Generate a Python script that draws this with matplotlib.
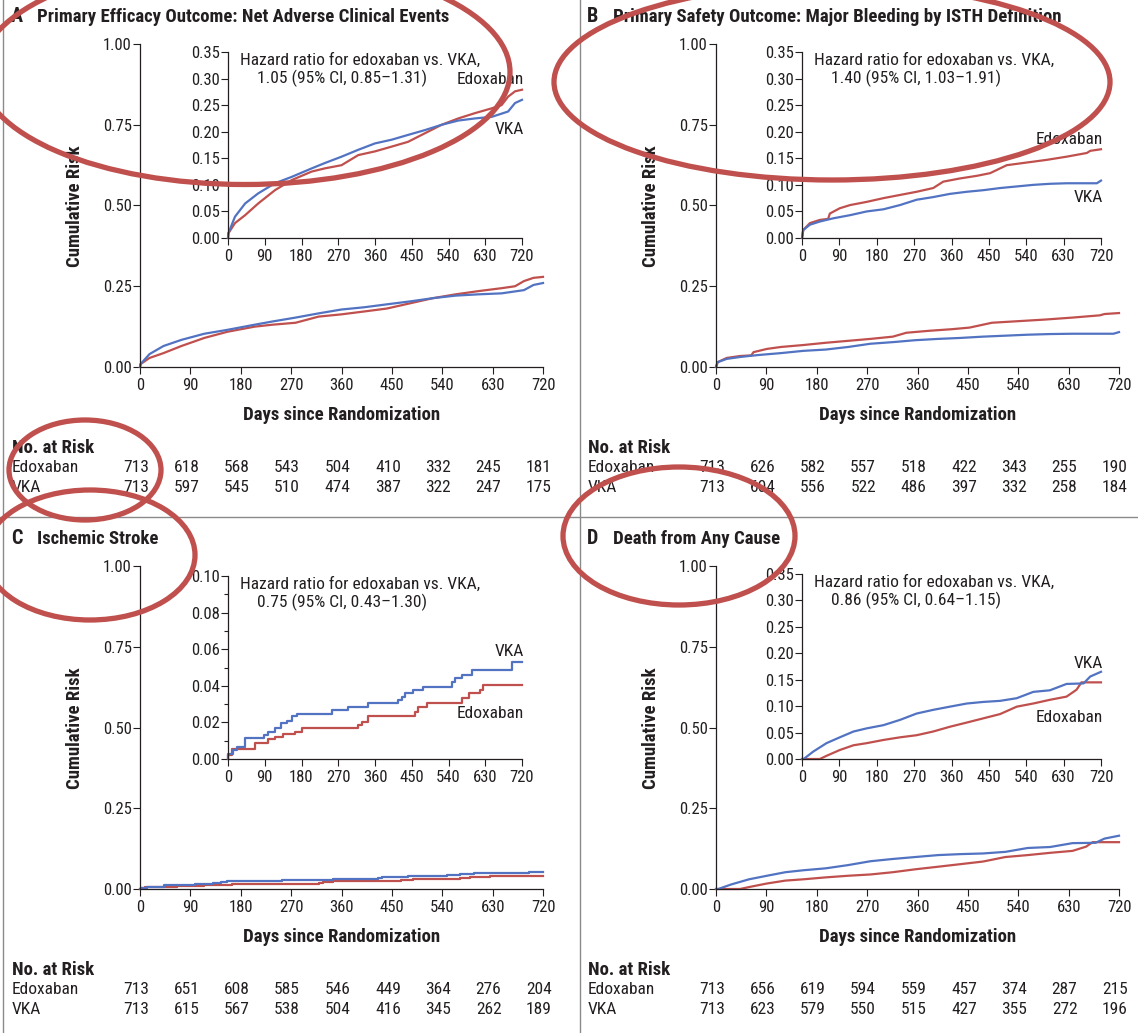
#! /usr/bin/env python3
import matplotlib
matplotlib.use('Agg')
import matplotlib.pyplot as plt
import matplotlib.transforms as mtransforms
from matplotlib.patches import Ellipse
from matplotlib.lines import Line2D

plt.rcParams['font.family'] = ['Roboto Condensed', 'Liberation Sans Narrow', 'Liberation Sans',
                               'DejaVu Sans']

FIG_W, FIG_H = 1138, 1033
RED = '#c0504d'
BLUE = '#5273c2'
INK = '#231f20'
MARK = '#c0504d'

TICK_SIZE = 12
TEXT_SIZE = 12.5
BOLD_SIZE = 13.5
BOLD = 'semibold'

DAY_TICKS = [0, 90, 180, 270, 360, 450, 540, 630, 720]

# Panel A: net adverse clinical events
A_EDOX_DAYS = [0, 1, 17, 42, 74, 115, 156, 205, 237, 278, 319, 360, 401, 441, 482, 523, 564,
               605, 646, 670, 686, 703, 720]
A_EDOX_RISK = [0, 0.009, 0.028, 0.043, 0.065, 0.090, 0.109, 0.125, 0.131, 0.137, 0.156, 0.163,
               0.172, 0.181, 0.197, 0.213, 0.225, 0.235, 0.244, 0.250, 0.266, 0.276, 0.279]
A_VKA_DAYS = [0, 1, 17, 42, 74, 115, 156, 205, 237, 278, 319, 360, 401, 441, 482, 523, 564,
              605, 646, 686, 703, 720]
A_VKA_RISK = [0, 0.009, 0.040, 0.065, 0.084, 0.103, 0.115, 0.131, 0.141, 0.153, 0.166, 0.178,
              0.185, 0.194, 0.203, 0.213, 0.221, 0.225, 0.228, 0.238, 0.254, 0.260]
A_RISK_EDOX = [713, 618, 568, 543, 504, 410, 332, 245, 181]
A_RISK_VKA = [713, 597, 545, 510, 474, 387, 322, 247, 175]

# Panel B: major bleeding
B_EDOX_DAYS = [0, 3, 19, 43, 63, 67, 91, 116, 156, 196, 236, 276, 316, 340, 380, 421, 453,
               477, 493, 541, 589, 637, 686, 694, 720]
B_EDOX_RISK = [0, 0.015, 0.028, 0.034, 0.036, 0.046, 0.056, 0.062, 0.068, 0.075, 0.081, 0.087,
               0.094, 0.106, 0.112, 0.117, 0.122, 0.131, 0.137, 0.142, 0.147, 0.153, 0.160,
               0.164, 0.167]
B_VKA_DAYS = [0, 3, 19, 43, 75, 116, 156, 196, 236, 276, 316, 356, 397, 437, 477, 517, 557,
              597, 637, 710, 720]
B_VKA_RISK = [0, 0.015, 0.025, 0.031, 0.037, 0.043, 0.050, 0.054, 0.062, 0.072, 0.077, 0.083,
              0.087, 0.090, 0.094, 0.097, 0.100, 0.102, 0.103, 0.103, 0.108]
B_RISK_EDOX = [713, 626, 582, 557, 518, 422, 343, 255, 190]
B_RISK_VKA = [713, 604, 556, 522, 486, 397, 332, 258, 184]

# Panel C: ischemic stroke (step heights)
C_EDOX_DAYS = [0, 1, 9, 66, 99, 115, 135, 164, 180, 319, 327, 344, 458, 466, 487, 572, 589,
               617, 625, 720]
C_EDOX_RISK = [0, 0.002, 0.0053, 0.0086, 0.0107, 0.012, 0.0135, 0.0149, 0.0167, 0.0186,
               0.0204, 0.0235, 0.0259, 0.0286, 0.0308, 0.0332, 0.0359, 0.0377, 0.0404, 0.0404]
C_VKA_DAYS = [0, 1, 13, 21, 42, 87, 99, 115, 131, 144, 156, 168, 254, 295, 344, 417, 425, 433,
              454, 478, 548, 556, 572, 597, 695, 720]
C_VKA_RISK = [0, 0.003, 0.005, 0.0067, 0.0113, 0.013, 0.015, 0.0167, 0.0195, 0.021, 0.0235,
              0.0246, 0.0268, 0.0286, 0.0304, 0.0322, 0.034, 0.0359, 0.0377, 0.0395, 0.0423,
              0.0441, 0.0459, 0.0486, 0.0532, 0.0532]
C_RISK_EDOX = [713, 651, 608, 585, 546, 449, 364, 276, 204]
C_RISK_VKA = [713, 615, 567, 538, 504, 416, 345, 262, 189]

# Panel D: death from any cause
D_EDOX_DAYS = [0, 43, 59, 91, 124, 156, 196, 236, 276, 316, 356, 397, 437, 477, 517, 557, 597,
               637, 661, 673, 720]
D_EDOX_RISK = [0, 0, 0.006, 0.017, 0.026, 0.030, 0.036, 0.041, 0.045, 0.052, 0.061, 0.069,
               0.077, 0.085, 0.099, 0.105, 0.112, 0.118, 0.131, 0.145, 0.145]
D_VKA_DAYS = [0, 4, 27, 59, 91, 124, 156, 196, 236, 276, 316, 356, 397, 437, 477, 517, 557,
              597, 637, 678, 694, 720]
D_VKA_RISK = [0, 0, 0.014, 0.030, 0.041, 0.052, 0.058, 0.064, 0.074, 0.086, 0.093, 0.099,
              0.105, 0.108, 0.110, 0.115, 0.127, 0.130, 0.142, 0.143, 0.156, 0.165]
D_RISK_EDOX = [713, 656, 619, 594, 559, 457, 374, 287, 215]
D_RISK_VKA = [713, 623, 579, 550, 515, 427, 355, 272, 196]

TITLES = ['Primary Efficacy Outcome: Net Adverse Clinical Events',
          'Primary Safety Outcome: Major Bleeding by ISTH Definition',
          'Ischemic Stroke',
          'Death from Any Cause']
HAZARD = ['1.05 (95% CI, 0.85\u20131.31)',
          '1.40 (95% CI, 1.03\u20131.91)',
          '0.75 (95% CI, 0.43\u20131.30)',
          '0.86 (95% CI, 0.64\u20131.15)']


def fig_xy(x, y):
    return x / FIG_W, 1 - y / FIG_H


def box(l, t, r, b):
    return [l / FIG_W, 1 - b / FIG_H, (r - l) / FIG_W, (b - t) / FIG_H]


def style_axis(ax, ylim, yticks, fmt='%.2f', minor=None):
    for side in ('top', 'right'):
        ax.spines[side].set_visible(False)
    for side in ('left', 'bottom'):
        ax.spines[side].set_color(INK)
        ax.spines[side].set_linewidth(0.9)
    ax.set_xlim(0, 720)
    ax.set_ylim(*ylim)
    ax.set_xticks(DAY_TICKS)
    ax.set_yticks(yticks)
    ax.set_yticklabels([fmt % v for v in yticks])
    if minor is not None:
        ax.set_yticks(minor, minor=True)
        ax.tick_params(axis='y', which='minor', length=3, width=0.8, color=INK)
    ax.tick_params(which='major', direction='out', length=5, width=0.8, color=INK,
                   labelsize=TICK_SIZE, labelcolor=INK)
    ax.tick_params(axis='x', pad=3)
    ax.tick_params(axis='y', pad=1)
    ax.patch.set_alpha(0)


def draw_curves(ax, cfg):
    ds = 'steps-post' if cfg['step'] else 'default'
    ax.plot(cfg['edox'][0], cfg['edox'][1], drawstyle=ds, color=RED, lw=1.6, clip_on=False)
    ax.plot(cfg['vka'][0], cfg['vka'][1], drawstyle=ds, color=BLUE, lw=1.6, clip_on=False)


def draw_panel(fig, idx, cfg):
    ox, oy = cfg['origin']
    # main axes
    ax = fig.add_axes(box(ox + 140, oy + 44, ox + 543, oy + 367))
    style_axis(ax, (0, 1), [0, 0.25, 0.5, 0.75, 1.0])
    draw_curves(ax, cfg)

    # inset
    il, it, ir, ib = cfg['inset']
    ins = fig.add_axes(box(ox + il, oy + it, ox + ir, oy + ib))
    style_axis(ins, cfg['ilim'], cfg['iticks'], minor=cfg.get('iminor'))
    draw_curves(ins, cfg)
    ins.text(0.04, 0.955, 'Hazard ratio for edoxaban vs. VKA,', transform=ins.transAxes,
             fontsize=TEXT_SIZE, color=INK, va='center', ha='left')
    ins.text(0.098, 0.858, HAZARD[idx], transform=ins.transAxes,
             fontsize=TEXT_SIZE, color=INK, va='center', ha='left')
    for name, yv in cfg['labels'].items():
        ins.text(724, yv, name, fontsize=TEXT_SIZE, color=INK, ha='right', va='center')

    # titles and axis labels
    letter = 'ABCD'[idx]
    fig.text(*fig_xy(ox + 11, oy + 17), letter, fontsize=BOLD_SIZE + 1, fontweight=BOLD,
             color=INK, va='center', ha='left')
    fig.text(*fig_xy(ox + 37, oy + 17), TITLES[idx], fontsize=BOLD_SIZE, fontweight=BOLD,
             color=INK, va='center', ha='left')
    fig.text(*fig_xy(ox + 75, oy + 206), 'Cumulative Risk', rotation=90, fontsize=BOLD_SIZE,
             fontweight=BOLD, color=INK, va='center', ha='center')
    fig.text(*fig_xy(ox + 342, oy + 415), 'Days since Randomization', fontsize=BOLD_SIZE,
             fontweight=BOLD, color=INK, va='center', ha='center')

    # numbers at risk
    fig.text(*fig_xy(ox + 12, oy + 448), 'No. at Risk', fontsize=BOLD_SIZE, fontweight=BOLD,
             color=INK, va='center', ha='left')
    trans = mtransforms.blended_transform_factory(ax.transData, fig.transFigure)
    trans = mtransforms.offset_copy(trans, fig=fig, x=-4, y=0, units='dots')
    for row, (name, counts) in enumerate([('Edoxaban', cfg['risk_edox']),
                                          ('VKA', cfg['risk_vka'])]):
        y = oy + 468 + 20 * row
        fig.text(*fig_xy(ox + 12, y), name, fontsize=TEXT_SIZE, color=INK, va='center',
                 ha='left')
        for day, n in zip(DAY_TICKS, counts):
            fig.text(day, 1 - y / FIG_H, str(n), transform=trans, fontsize=TEXT_SIZE,
                     color=INK, va='center', ha='center')


def main():
    fig = plt.figure(figsize=(FIG_W / 100, FIG_H / 100), dpi=100)
    fig.patch.set_facecolor('white')

    big = [0, 0.05, 0.10, 0.15, 0.20, 0.25, 0.30, 0.35]
    panels = [
        dict(origin=(0, 0), inset=(228, 52, 522, 238), ilim=(0, 0.35), iticks=big, step=False,
             edox=(A_EDOX_DAYS, A_EDOX_RISK), vka=(A_VKA_DAYS, A_VKA_RISK),
             labels={'Edoxaban': 0.298, 'VKA': 0.205},
             risk_edox=A_RISK_EDOX, risk_vka=A_RISK_VKA),
        dict(origin=(576, 0), inset=(226, 52, 525, 238), ilim=(0, 0.35), iticks=big, step=False,
             edox=(B_EDOX_DAYS, B_EDOX_RISK), vka=(B_VKA_DAYS, B_VKA_RISK),
             labels={'Edoxaban': 0.186, 'VKA': 0.077},
             risk_edox=B_RISK_EDOX, risk_vka=B_RISK_VKA),
        dict(origin=(0, 522), inset=(228, 54, 522, 237), ilim=(0, 0.10), step=True,
             iticks=[0, 0.02, 0.04, 0.06, 0.08, 0.10],
             iminor=[0.01, 0.03, 0.05, 0.07, 0.09],
             edox=(C_EDOX_DAYS, C_EDOX_RISK), vka=(C_VKA_DAYS, C_VKA_RISK),
             labels={'VKA': 0.059, 'Edoxaban': 0.025},
             risk_edox=C_RISK_EDOX, risk_vka=C_RISK_VKA),
        dict(origin=(576, 522), inset=(226, 52, 525, 237), ilim=(0, 0.35), iticks=big, step=False,
             edox=(D_EDOX_DAYS, D_EDOX_RISK), vka=(D_VKA_DAYS, D_VKA_RISK),
             labels={'VKA': 0.18, 'Edoxaban': 0.078},
             risk_edox=D_RISK_EDOX, risk_vka=D_RISK_VKA),
    ]
    for idx, cfg in enumerate(panels):
        draw_panel(fig, idx, cfg)

    # panel dividers
    for (x0, y0), (x1, y1) in [((580, 0), (580, FIG_H)), ((0, 517), (FIG_W, 517)),
                               ((3, 0), (3, FIG_H))]:
        p0, p1 = fig_xy(x0, y0), fig_xy(x1, y1)
        fig.add_artist(Line2D([p0[0], p1[0]], [p0[1], p1[1]], transform=fig.transFigure,
                              color='#8a8a8a', lw=1.0))

    # red highlight ellipses
    for cx, cy, w, h in [(245, 72, 530, 225), (832, 82, 556, 196), (85, 470, 152, 100),
                         (90, 555, 210, 130), (679, 536, 232, 138)]:
        c = fig_xy(cx, cy)
        fig.add_artist(Ellipse(c, w / FIG_W, h / FIG_H, transform=fig.transFigure,
                               fill=False, ec=MARK, lw=3.8, zorder=20))

    fig.savefig('out.png', dpi=100)
    plt.close(fig)


if __name__ == '__main__':
    main()
